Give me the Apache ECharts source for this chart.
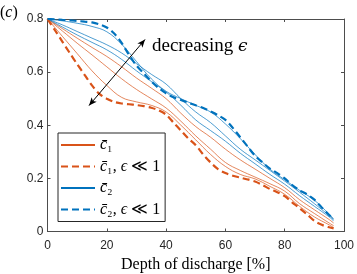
<!DOCTYPE html>
<html><head><meta charset="utf-8">
<script src="https://cdn.jsdelivr.net/npm/echarts@6/dist/echarts.min.js"></script>
<style>html,body{margin:0;padding:0;background:#fff}#c{width:357px;height:274px}</style>
</head><body><div id="c"></div>
<script>
// x positions (depth of discharge, %)
const xFine = [0,2.5,5,7.5,10,12.5,15,17.5,20,22.5,25,27.5,30,32.5,35,37.5,40,42.5,45,47.5,50,52.5,55,57.5,60,62.5,65,67.5,70,72.5,75,77.5,80,82.5,85,87.5,90,92.5,95,96.5];
const xCoarse = [0,5,10,15,20,25,30,35,40,45,50,55,60,65,70,75,80,85,90,95,96.5];
// c1 bar, eps << 1 (dashed)
const c1Dashed = [.80,.758,.715,.672,.63,.59,.55,.518,.50,.488,.482,.479,.476,.472,.466,.456,.44,.41,.38,.35,.325,.29,.26,.235,.22,.21,.203,.196,.188,.175,.16,.148,.133,.11,.088,.065,.04,.025,.016,.012];
// c2 bar, eps << 1 (dashed)
const c2Dashed = [.80,.799,.797,.795,.793,.79,.787,.78,.768,.745,.71,.665,.625,.595,.565,.54,.52,.505,.495,.485,.475,.465,.452,.438,.42,.39,.355,.32,.285,.26,.237,.22,.2,.175,.155,.14,.12,.09,.062,.046];
// c1 bar, three values of eps (smallest eps first)
const c1Eps1 = [.80,.735,.67,.605,.55,.505,.488,.475,.45,.40,.345,.29,.245,.215,.198,.17,.14,.095,.055,.025,.015];
const c1Eps2 = [.80,.755,.709,.665,.62,.575,.535,.50,.465,.415,.36,.31,.26,.23,.205,.18,.152,.105,.068,.032,.022];
const c1Eps3 = [.80,.764,.728,.693,.659,.62,.578,.54,.50,.445,.395,.355,.31,.27,.235,.20,.165,.12,.082,.045,.032];
// c2 bar, three values of eps (smallest eps first)
const c2Eps1 = [.80,.793,.784,.772,.752,.705,.64,.575,.528,.50,.475,.45,.405,.35,.29,.235,.195,.155,.118,.065,.048];
const c2Eps2 = [.80,.778,.753,.728,.703,.672,.632,.592,.555,.50,.45,.41,.36,.31,.27,.23,.19,.148,.105,.06,.045];
const c2Eps3 = [.80,.77,.74,.712,.684,.648,.605,.565,.525,.475,.42,.38,.34,.295,.255,.215,.178,.135,.095,.055,.04];
// axis ticks
const xTicks = [0,20,40,60,80,100];
const yTicks = [0,0.2,0.4,0.6,0.8];
// arrow annotation ends (data coords)
const arrowFrom = [14.0,0.474];
const arrowTo = [32.9,0.723];

const ORANGE = '#D95319', BLUE = '#0072BD';
const zip = (xs, ys) => xs.map((x, i) => [x, ys[i]]);
const thin = (name, xs, ys, color) => ({
  name, type:'line', data: zip(xs, ys), symbol:'none', smooth:0.4, silent:true,
  lineStyle:{color, width:0.7}, itemStyle:{color}, z:2
});
const dashed = (name, xs, ys, color) => ({
  name, type:'line', data: zip(xs, ys), symbol:'none', smooth:0.3, silent:true,
  lineStyle:{color, width:2.2, type:[7,4]}, itemStyle:{color}, z:3
});
const axisCol = '#4d4d4d';
const baseAxis = (ticks) => ({
  type:'value', min:ticks[0], max:ticks[ticks.length-1], interval:ticks[1]-ticks[0],
  axisLine:{onZero:false, lineStyle:{color:axisCol, width:1}},
  axisTick:{inside:true, length:3, lineStyle:{color:axisCol}},
  splitLine:{show:false}
});
const labels = {
  'c1': '{i|c\u0304}\u2081',
  'c1d': '{i|c\u0304}\u2081, {i|\u03F5} \u226A 1',
  'c2': '{i|c\u0304}\u2082',
  'c2d': '{i|c\u0304}\u2082, {i|\u03F5} \u226A 1'
};
const chart = echarts.init(document.getElementById('c'), null, {renderer:'canvas'});
chart.setOption({
  animation:false,
  backgroundColor:'#fff',
  grid:{left:47.5, right:13, top:19, bottom:42.5, containLabel:false, outerBoundsMode:'none'},
  xAxis:[
    Object.assign(baseAxis(xTicks), {position:'bottom',
      axisLabel:{fontFamily:'Liberation Sans', fontSize:12, color:'#262626', margin:8},
      name:'Depth of discharge [%]', nameLocation:'middle', nameGap:25,
      nameTextStyle:{fontFamily:'Liberation Serif', fontSize:16, color:'#000'}}),
    Object.assign(baseAxis(xTicks), {position:'top', axisLabel:{show:false}})
  ],
  yAxis:[
    Object.assign(baseAxis(yTicks), {position:'left',
      axisLabel:{fontFamily:'Liberation Sans', fontSize:12, color:'#262626', margin:4}}),
    Object.assign(baseAxis(yTicks), {position:'right', axisLabel:{show:false}})
  ],
  legend:{
    orient:'vertical', left:58, top:133,
    backgroundColor:'#fff', borderColor:'#262626', borderWidth:1, borderRadius:0,
    padding:[4,5,4,2], itemWidth:34, itemHeight:12, itemGap:5.5,
    selectedMode:false,
    itemStyle:{opacity:0},
    data:['c1','c1d','c2','c2d'],
    formatter: n => labels[n],
    textStyle:{fontFamily:'Liberation Serif', fontSize:16, lineHeight:16, color:'#000',
      rich:{i:{fontFamily:'Liberation Serif', fontStyle:'italic', fontSize:16, lineHeight:16, color:'#000'}}}
  },
  graphic:[
    {type:'text', left:0, top:5, silent:true,
      style:{text:'({i|c})', fontFamily:'Liberation Serif', fontSize:16, fill:'#000',
        rich:{i:{fontFamily:'Liberation Serif', fontStyle:'italic', fontSize:16}}}},
    {type:'text', left:152, top:37, silent:true,
      style:{text:'decreasing {i|\u03F5}', fontFamily:'Liberation Serif', fontSize:19, fill:'#000',
        rich:{i:{fontFamily:'DejaVu Serif', fontStyle:'italic', fontSize:17}}}}
  ],
  series:[
    thin('c1', xCoarse, c1Eps3, ORANGE),
    thin('c1', xCoarse, c1Eps2, ORANGE),
    thin('c1', xCoarse, c1Eps1, ORANGE),
    thin('c2', xCoarse, c2Eps3, BLUE),
    thin('c2', xCoarse, c2Eps2, BLUE),
    thin('c2', xCoarse, c2Eps1, BLUE),
    dashed('c1d', xFine, c1Dashed, ORANGE),
    dashed('c2d', xFine, c2Dashed, BLUE),
    {name:'arrow', type:'line', data:[], silent:true,
      markLine:{silent:true, symbol:['arrow','arrow'], symbolSize:[5,8], animation:false,
        label:{show:false}, lineStyle:{color:'#000', width:1, type:'solid'},
        data:[[{coord:arrowFrom},{coord:arrowTo}]]}}
  ]
});
</script></body></html>
